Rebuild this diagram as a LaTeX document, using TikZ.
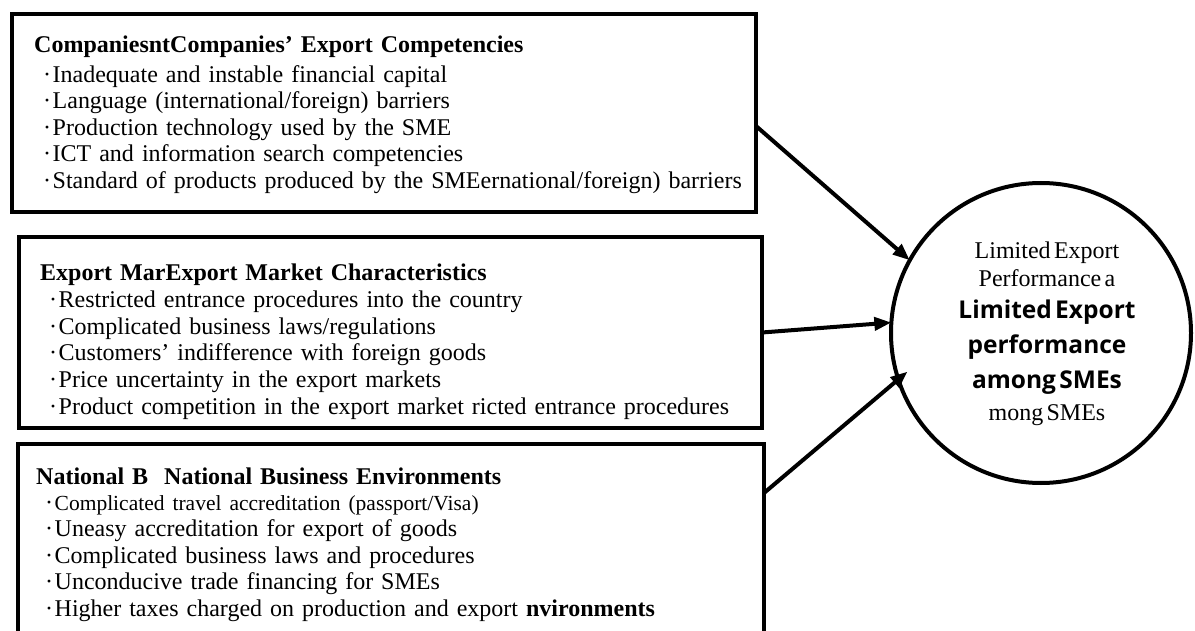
\documentclass[tikz,border=0pt]{standalone}
\usepackage{fontspec}
\setmainfont{Liberation Serif}
\newfontfamily\opensans{Open Sans}
\usetikzlibrary{arrows.meta}
\newcommand{\dotitem}[1]{\hspace*{9pt}·\hspace{1.5pt}#1}
\begin{document}
\begin{tikzpicture}[x=1pt,y=-1pt,
    factorbox/.style={draw,rectangle,line width=4.5pt,inner sep=0pt,outer sep=0pt,anchor=north west},
    factortext/.style={anchor=north west,inner sep=0pt,text width=740pt,align=left,
      font=\fontsize{24}{26.6}\selectfont},
    outcome/.style={draw,circle,line width=4pt,minimum size=300pt,inner sep=0pt,outer sep=0pt},
    link/.style={line width=4pt,-{Triangle[length=17pt,width=13pt]}}]
  \useasboundingbox (0,0) rectangle (1195,631);
  \clip (0,0) rectangle (1195,631);
  \node[factorbox,minimum width=744pt,minimum height=198pt] (comp) at (12,14) {};
  \node[factorbox,minimum width=743pt,minimum height=191pt] (market) at (19,237) {};
  \node[factorbox,minimum width=746pt,minimum height=220pt] (natenv) at (18,444) {};
  \node[factortext] (comptext) at (34,35.7)
    {\textbf{CompaniesntCompanies’ Export Competencies}\\[3pt]
     \dotitem{Inadequate and instable financial capital}\\
     \dotitem{Language (international/foreign) barriers}\\
     \dotitem{Production technology used by the SME}\\
     \dotitem{ICT and information search competencies}\\
     \dotitem{Standard of products produced by the SMEernational/foreign) barriers}};
  \node[factortext] (markettext) at (40,263.7)
    {\textbf{Export MarExport Market Characteristics}\\[0.5pt]
     \dotitem{Restricted entrance procedures into the country}\\
     \dotitem{Complicated business laws/regulations}\\
     \dotitem{Customers’ indifference with foreign goods}\\
     \dotitem{Price uncertainty in the export markets}\\
     \dotitem{Product competition in the export market ricted entrance procedures}};
  \node[factortext] (natenvtext) at (36,467.7)
    {\textbf{National B\ \ National Business Environments}\\[-1pt]
     \dotitem{{\fontsize{21.5}{26.6}\selectfont Complicated travel accreditation (passport/Visa)}}\\
     \dotitem{Uneasy accreditation for export of goods}\\
     \dotitem{Complicated business laws and procedures}\\
     \dotitem{Unconducive trade financing for SMEs}\\
     \dotitem{Higher taxes charged on production and export \textbf{nvironments}}};
  \node[outcome] (perf) at (1041,333) {};
  \node[anchor=north,inner sep=0pt,text width=260pt,align=center] (perftext) at (1047,242)
    {{\fontsize{24}{28}\selectfont Limited Export\par Performance a\par}\vspace{-3pt}
     {\opensans\bfseries\fontsize{24.5}{35}\selectfont Limited Export\par performance\par among SMEs\par}
     {\fontsize{24}{32}\selectfont mong SMEs\par}};
  \draw[link] ([yshift=-13pt]comp.east) -- (perf.151);
  \draw[link] (market.east) -- (perf.176.5);
  \draw[link,shorten >=-12pt] ([yshift=-49pt]natenv.north east) -- (perf.198);
\end{tikzpicture}
\end{document}
